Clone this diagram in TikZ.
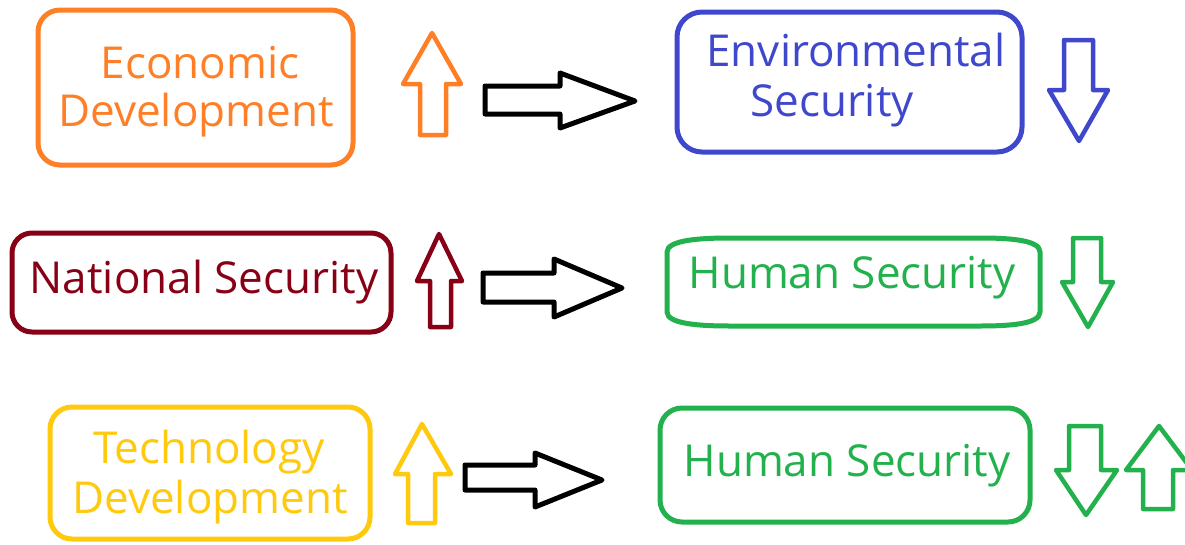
\documentclass[tikz,border=0pt]{standalone}
\usepackage{fontspec}
\setmainfont{Open Sans}
\definecolor{corange}{RGB}{255,127,39}
\definecolor{cblue}{RGB}{63,72,204}
\definecolor{cred}{RGB}{136,0,21}
\definecolor{cgreen}{RGB}{34,177,76}
\definecolor{cyellow}{RGB}{255,201,14}
\begin{document}
\begin{tikzpicture}[x=1pt,y=-1pt,
  box/.style={draw=#1, line width=5pt, rounded corners=22pt, inner sep=0pt},
  lbl/.style={text=#1, anchor=base, inner sep=0pt, font=\fontsize{44}{50}\selectfont},
  blockarrow/.style={draw=#1, line width=4.5pt, line join=round, fill=white}]
\useasboundingbox (0,0) rectangle (1185,544);
\clip (0,0) rectangle (1185,544);

% Row 1
\node[box=corange, minimum width=315pt, minimum height=155pt] (econ) at (195.5,87.5) {};
\node[lbl=corange] (econ1) at (200,78) {Economic};
\node[lbl=corange] (econ2) at (196,126) {Development};
\draw[blockarrow=corange] (420,135) -- (420,84) -- (403,84) -- (432,33) -- (461,84) -- (446,84) -- (446,135) -- cycle;
\draw[blockarrow=black, line width=5pt] (485,86) -- (560,86) -- (560,73) -- (635,101) -- (560,128) -- (560,114) -- (485,114) -- cycle;
\node[box=cblue, minimum width=345pt, minimum height=140pt, rounded corners=25pt] (env) at (849.5,82) {};
\node[lbl=cblue] (env1) at (856,66) {Environmental};
\node[lbl=cblue] (env2) at (832,116) {Security};
\draw[blockarrow=cblue] (1064,40) -- (1093,40) -- (1093,90) -- (1108,90) -- (1079,141) -- (1049,90) -- (1064,90) -- cycle;

% Row 2
\node[box=cred, minimum width=379pt, minimum height=99pt, rounded corners=20pt] (nat) at (201.5,282.5) {};
\node[lbl=cred] (nat1) at (204,293) {National Security};
\draw[blockarrow=cred] (430,327) -- (430,281) -- (417,281) -- (439,234) -- (462,281) -- (451,281) -- (451,327) -- cycle;
\draw[blockarrow=black, line width=5pt] (483,273) -- (554,273) -- (554,259) -- (622,288) -- (554,317) -- (554,302) -- (483,302) -- cycle;
\coordinate (hs1) at (853.5,282);
\draw[cgreen, line width=5pt] (667,252) .. controls (667,240) and (700,238) .. (730,238) -- (980,238) .. controls (1010,238) and (1040,240) .. (1040,252) -- (1040,312) .. controls (1040,324) and (1010,326) .. (980,326) -- (730,326) .. controls (700,326) and (667,324) .. (667,312) -- cycle;
\node[lbl=cgreen] (hs1t) at (852,288) {Human Security};
\draw[blockarrow=cgreen] (1073,238) -- (1101,238) -- (1101,282) -- (1113,282) -- (1088,327) -- (1062,282) -- (1073,282) -- cycle;

% Row 3
\node[box=cyellow, minimum width=320pt, minimum height=132pt] (tech) at (210,473) {};
\node[lbl=cyellow] (tech1) at (209,463) {Technology};
\node[lbl=cyellow] (tech2) at (210,513) {Development};
\draw[blockarrow=cyellow] (408,523) -- (408,474) -- (395,474) -- (422,424) -- (451,474) -- (435,474) -- (435,523) -- cycle;
\draw[blockarrow=black, line width=5pt] (465,465) -- (535,465) -- (535,453) -- (602,480) -- (535,507) -- (535,490) -- (465,490) -- cycle;
\node[box=cgreen, minimum width=370pt, minimum height=114pt] (hs2) at (845,465) {};
\node[lbl=cgreen] (hs2t) at (847,476) {Human Security};
\draw[blockarrow=cgreen] (1069,426) -- (1101,426) -- (1101,470) -- (1117,470) -- (1086,515) -- (1056,470) -- (1069,470) -- cycle;
\draw[blockarrow=cgreen] (1143,509) -- (1143,470) -- (1126,470) -- (1159,426) -- (1192,470) -- (1173,470) -- (1173,509) -- cycle;
\end{tikzpicture}
\end{document}
